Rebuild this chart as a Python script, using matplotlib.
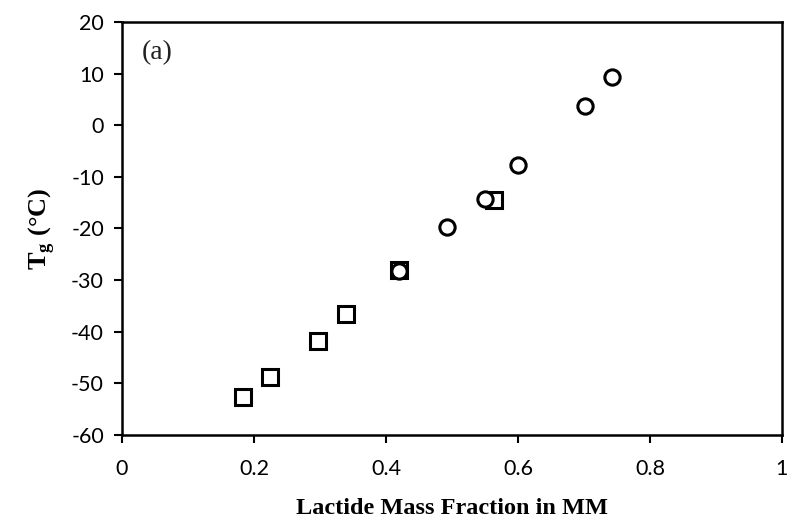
import matplotlib.pyplot as plt

plt.rcParams['axes.unicode_minus'] = False
plt.rcParams['mathtext.fontset'] = 'custom'
plt.rcParams['mathtext.rm'] = 'Liberation Serif'
plt.rcParams['mathtext.bf'] = 'Liberation Serif:bold'

# Tg vs lactide mass fraction
sq_x = [0.183, 0.224, 0.297, 0.339, 0.420, 0.564]
sq_y = [-52.6, -48.8, -41.8, -36.6, -28.0, -14.5]
ci_x = [0.420, 0.492, 0.550, 0.600, 0.702, 0.742]
ci_y = [-28.2, -19.7, -14.3, -7.7, 3.7, 9.4]

xticks = [0, 0.2, 0.4, 0.6, 0.8, 1]
xticklabels = ['0', '0.2', '0.4', '0.6', '0.8', '1']
yticks = list(range(-60, 21, 10))

fig = plt.figure(figsize=(7.93, 5.27), dpi=100)
ax = fig.add_axes([0.1539, 0.1746, 0.8321, 0.7837])

ax.plot(sq_x, sq_y, ls='none', marker='s', ms=11, mfc='white', mec='black', mew=2.2)
ax.plot(ci_x, ci_y, ls='none', marker='o', ms=11, mfc='white', mec='black', mew=2.2)

ax.set_xlim(0, 1)
ax.set_ylim(-60, 20)
ax.set_xticks(xticks)
ax.set_xticklabels(xticklabels)
ax.set_yticks(yticks)

for s in ax.spines.values():
    s.set_linewidth(1.8)
ax.tick_params(direction='out', length=6, width=1.5, labelsize=15.5)
ax.tick_params(axis='x', pad=11)
ax.tick_params(axis='y', pad=7)
for lab in ax.get_xticklabels() + ax.get_yticklabels():
    lab.set_fontfamily('Lato')

ax.set_xlabel('Lactide Mass Fraction in MM', family='Liberation Serif',
              fontweight='bold', fontsize=17.5, labelpad=14)
ax.set_ylabel(r'T$_\mathbf{g}$ (°C)', family='Liberation Serif',
              fontweight='bold', fontsize=19, labelpad=10)

ax.text(0.03, 0.955, '(a)', transform=ax.transAxes, family='Liberation Serif',
        fontsize=20, va='top', ha='left', color='#222222')

fig.savefig('out.png', dpi=100)
